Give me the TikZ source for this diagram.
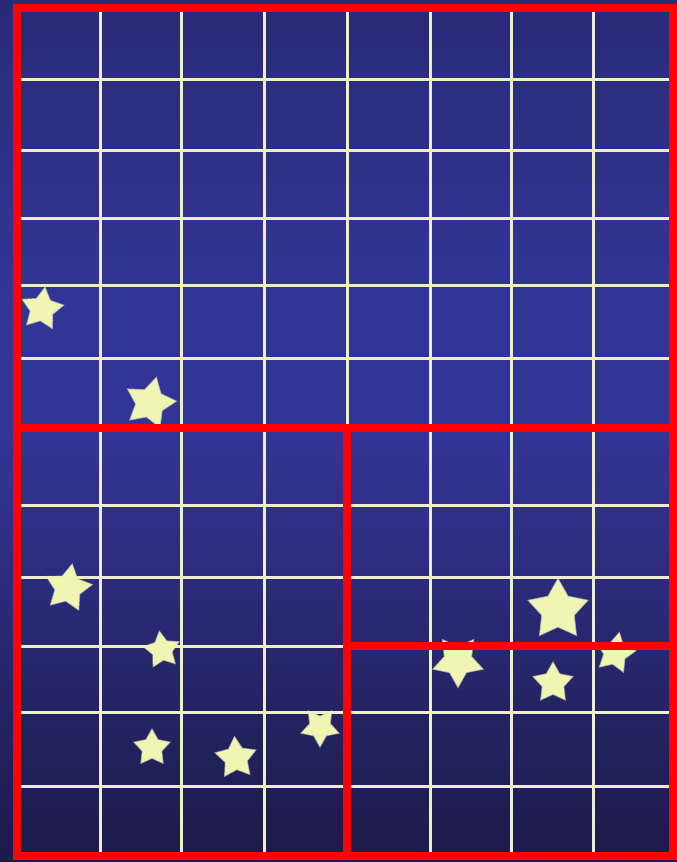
\documentclass[tikz,border=0pt]{standalone}
\usetikzlibrary{shapes.geometric}
\definecolor{bgtop}{RGB}{40,42,118}
\definecolor{bgmid}{RGB}{51,53,150}
\definecolor{bgbot}{RGB}{27,26,72}
\definecolor{gridcol}{RGB}{238,238,205}
\definecolor{redline}{RGB}{255,0,0}
\definecolor{starfill}{RGB}{240,246,178}
\definecolor{starglow}{RGB}{230,236,190}
\tikzset{
  gridline/.style={draw=gridcol, line width=3pt},
  redframe/.style={draw=redline, line width=7.5pt, line cap=rect},
  starnode/.style={star, star points=5, star point ratio=1.85, fill=starfill,
    draw=starglow, draw opacity=0.6, line width=1.5pt, inner sep=0pt,
    minimum size=#1},
}
\begin{document}
\begin{tikzpicture}[x=1pt,y=-1pt]
\useasboundingbox (0,0) rectangle (677,862);
% background
\shade[top color=bgtop, bottom color=bgmid] (0,0) rectangle (677,300.5);
\fill[bgmid] (0,300) rectangle (677,430.5);
\shade[top color=bgmid, bottom color=bgbot] (0,430) rectangle (677,862);
% grid lines
\foreach \gx in {100,181,264,347,430,511,593}
  \draw[gridline] (\gx,8) -- (\gx,856);
\foreach \gy in {79,150,218,285,358,428,505,577,646,712,786}
  \draw[gridline] (17,\gy) -- (673,\gy);
% stars
\node[starnode=43pt, rotate=-8] (s1) at (42,309) {};
\node[starnode=52pt, rotate=-14] (s2) at (150,403) {};
\node[starnode=48pt, rotate=-10] (s3) at (68,588) {};
\node[starnode=37pt, rotate=8] (s4) at (162,650) {};
\node[starnode=37pt] (s5) at (152,748) {};
\node[starnode=42pt, rotate=4] (s6) at (236,758) {};
\node[starnode=39pt, rotate=180] (s7) at (320,727) {};
\node[starnode=52pt, rotate=180] (s8) at (458,661) {};
\node[starnode=62pt] (s9) at (558,610) {};
\node[starnode=41pt] (s10) at (553,683) {};
\node[starnode=41pt, rotate=-12] (s11) at (615,653) {};
% red partition
\draw[redframe] (17,8) rectangle (673,856);
\draw[redframe] (17,428) -- (673,428);
\draw[redframe] (347,428) -- (347,856);
\draw[redframe] (347,646) -- (673,646);
\end{tikzpicture}
\end{document}
